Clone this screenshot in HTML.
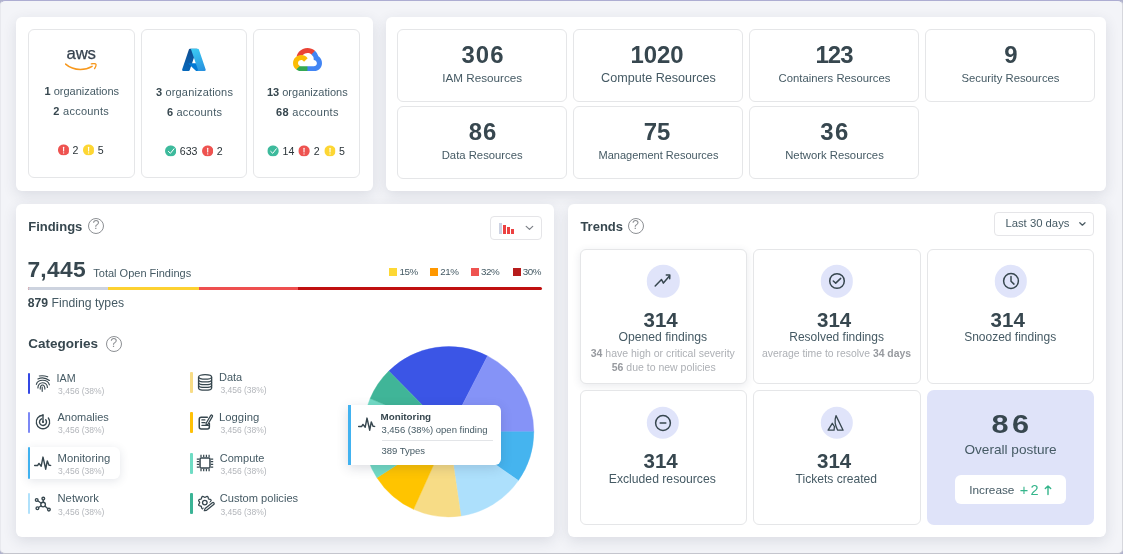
<!DOCTYPE html>
<html>
<head>
<meta charset="utf-8">
<style>
*{box-sizing:border-box;margin:0;padding:0}
html,body{width:1123px;height:554px;overflow:hidden}html{background:#a9abd0}body{will-change:transform}
body{font-family:"Liberation Sans",sans-serif;background:#b0b2cc;color:#37474f;position:relative}
.frame{position:absolute;left:0;top:0;width:1123px;height:554px;border:1px solid #e8e9ee;border-top:1.3px solid #adadd2;border-right-color:#d6d7dd;border-bottom-color:#c4c5cd;border-radius:5px;background:#f3f4f8}
.abs{position:absolute}
.panel{position:absolute;background:#fff;border-radius:6px;box-shadow:0 4px 14px rgba(45,50,70,.12)}
.card{position:absolute;background:#fff;border:1px solid #e5e6e8;border-radius:6px}
.c{position:absolute;white-space:nowrap;transform:translate(-50%,-50%);line-height:1}
.l{position:absolute;white-space:nowrap;transform:translate(0,-50%);line-height:1}
b{font-weight:700}
.num{font-weight:700;font-size:23px;color:#37474f}
.lab{font-size:11.5px;color:#455a64}
.org{font-size:11px;color:#455a64}
.org b{color:#37474f}
.st{position:absolute;display:flex;align-items:center;transform:translate(-50%,-50%);font-size:10.6px;color:#2a3338;white-space:nowrap;line-height:1}
.st svg{margin-right:3.6px}
.st span{margin-right:4.4px;position:relative;top:1.1px}
.st span:last-child{margin-right:0}
.h{font-weight:700;font-size:13px;color:#37474f}
.help{position:absolute;width:16px;height:16px;border:1.3px solid #8d9094;border-radius:50%;transform:translate(-50%,-50%);font-size:12.5px;color:#8d9094;text-align:center;line-height:13.8px}
.cat{font-size:11px;color:#455a64}
.sub{font-size:8.5px;color:#b3b6bb}
.bar{position:absolute;margin-left:.2px;width:2.5px;border-radius:1px}
.circ{position:absolute;width:32.4px;height:32.4px;border-radius:50%;background:#e0e4fa;transform:translate(-50%,-50%)}
.t314{font-weight:700;font-size:20.5px;color:#37474f}
.tl{font-size:12px;color:#455a64}
.ts{font-size:10.5px;color:#adb0b5}
.ts b{color:#979a9f}
.lg{font-size:9.8px;letter-spacing:-.5px;color:#455a64}
.sq{position:absolute;width:8px;height:8px}
</style>
</head>
<body>
<div class="frame"></div>
<div class="panel" style="left:16px;top:17px;width:356.7px;height:173.8px"></div>
<div class="card" style="left:27.9px;top:29.2px;width:107.2px;height:149px;"></div>
<div class="card" style="left:140.6px;top:29.2px;width:106.4px;height:149px;"></div>
<div class="card" style="left:253.2px;top:29.2px;width:107.2px;height:149px;"></div>
<div class="c " style="left:81.2px;top:54.1px;font-size:16.8px;color:#36424f;letter-spacing:-.2px;-webkit-text-stroke:.25px #36424f">aws</div>
<svg class="abs" style="left:65.3px;top:62.6px" width="32" height="9" viewBox="0 0 32 9"><path d="M.6 1.1C4.600 4.600 10 6.400 15.400 6.400c4 0 8.300-1.100 11.700-3.100" fill="none" stroke="#f7981d" stroke-width="1.500" stroke-linecap="round"/><path d="M26.300.800c1.700-.300 4-.300 4.500.300.500.600-.200 2.900-1.200 4.500" fill="none" stroke="#f7981d" stroke-width="1.300" stroke-linecap="round" stroke-linejoin="round"/></svg>
<div class="c org" style="left:81.8px;top:90.6px;"><b>1</b> organizations</div>
<div class="c org" style="left:81.2px;top:111.1px;letter-spacing:.25px"><b>2</b> accounts</div>
<div class="st" style="left:80.6px;top:149.8px"><svg width="11.4" height="11.4" viewBox="0 0 11.4 11.4"><circle cx="5.7" cy="5.7" r="5.7" fill="#ee5350"/><rect x="5.15" y="2.5" width="1.1" height="4.7" rx=".5" fill="#fff"/><circle cx="5.7" cy="8.6" r=".65" fill="#fff"/></svg><span>2</span><svg width="11.4" height="11.4" viewBox="0 0 11.4 11.4"><circle cx="5.7" cy="5.7" r="5.7" fill="#fdd633"/><rect x="5.15" y="2.5" width="1.1" height="4.7" rx=".5" fill="#fff"/><circle cx="5.7" cy="8.6" r=".65" fill="#fff"/></svg><span>5</span></div>
<svg class="abs" style="left:181.1px;top:46.9px" width="25.8" height="25.8" viewBox="0 0 96 96"><defs>
<linearGradient id="az1" x1="58.97" y1="7.41" x2="18.06" y2="93.3" gradientUnits="userSpaceOnUse"><stop offset="0" stop-color="#114a8b"/><stop offset="1" stop-color="#0669bc"/></linearGradient>
<linearGradient id="az3" x1="45.6" y1="6.6" x2="75" y2="89" gradientUnits="userSpaceOnUse"><stop offset="0" stop-color="#3ccbf4"/><stop offset="1" stop-color="#2892df"/></linearGradient></defs>
<path fill="url(#az1)" d="M33.338 6.544h26.038l-27.030 80.087a4.152 4.152 0 0 1-3.933 2.824H8.149a4.145 4.145 0 0 1-3.928-5.470L29.404 9.368a4.152 4.152 0 0 1 3.934-2.825z"/>
<path fill="#0078d4" d="M71.175 60.261h-41.290a1.911 1.911 0 0 0-1.305 3.309l26.532 24.764a4.171 4.171 0 0 0 2.846 1.121h23.380z"/>
<path fill="url(#az3)" d="M66.595 9.364a4.145 4.145 0 0 0-3.928-2.820H33.648a4.146 4.146 0 0 1 3.928 2.820l25.184 74.620a4.146 4.146 0 0 1-3.928 5.472h29.020a4.146 4.146 0 0 0 3.927-5.472z"/></svg>
<div class="c org" style="left:194.5px;top:91.6px;letter-spacing:.17px"><b>3</b> organizations</div>
<div class="c org" style="left:194.5px;top:111.9px;letter-spacing:.2px"><b>6</b> accounts</div>
<div class="st" style="left:193.8px;top:150.7px"><svg width="11.4" height="11.4" viewBox="0 0 11.4 11.4"><circle cx="5.7" cy="5.7" r="5.7" fill="#3dba9c"/><path d="M3.4 6.1l2 1.900 3.600-4.500" fill="none" stroke="#fff" stroke-width="1" stroke-linecap="round" stroke-linejoin="round"/></svg><span>633</span><svg width="11.4" height="11.4" viewBox="0 0 11.4 11.4"><circle cx="5.7" cy="5.7" r="5.7" fill="#ee5350"/><rect x="5.15" y="2.5" width="1.1" height="4.7" rx=".5" fill="#fff"/><circle cx="5.7" cy="8.6" r=".65" fill="#fff"/></svg><span>2</span></div>
<svg class="abs" style="left:292.6px;top:47.6px" width="29" height="23.3" viewBox="0 0 256 206">
<path fill="#EA4335" d="m170.252 56.819l22.253-22.253l1.483-9.370C153.437-11.677 88.976-7.496 52.420 33.920C42.267 45.423 34.734 59.764 30.717 74.573l7.970-1.123l44.505-7.340l3.436-3.513c19.797-21.742 53.270-24.667 76.128-6.168z"/>
<path fill="#4285F4" d="M224.205 73.918a100.249 100.249 0 0 0-30.217-48.722l-31.232 31.232a55.515 55.515 0 0 1 20.379 44.037v5.544c15.350 0 27.797 12.445 27.797 27.796c0 15.352-12.446 27.485-27.797 27.485h-55.671l-5.466 5.934v33.340l5.466 5.231h55.670c39.930.311 72.553-31.494 72.864-71.424a72.303 72.303 0 0 0-31.793-60.453"/>
<path fill="#34A853" d="M71.870 205.796h55.593V161.290H71.870a27.275 27.275 0 0 1-11.399-2.498l-7.887 2.420l-22.409 22.253l-1.952 7.574c12.567 9.489 27.900 14.825 43.647 14.757"/>
<path fill="#FBBC05" d="M71.870 61.425C31.940 61.663-.237 94.228.001 134.159a72.301 72.301 0 0 0 28.222 56.880l32.248-32.246c-13.990-6.322-20.208-22.786-13.887-36.776c6.320-13.990 22.786-20.208 36.775-13.888a27.796 27.796 0 0 1 13.887 13.888l32.248-32.248A72.224 72.224 0 0 0 71.870 61.425"/></svg>
<div class="c org" style="left:307.3px;top:91.6px;"><b>13</b> organizations</div>
<div class="c org" style="left:307.4px;top:111.9px;letter-spacing:.32px"><b>68</b> accounts</div>
<div class="st" style="left:306.2px;top:150.7px"><svg width="11.4" height="11.4" viewBox="0 0 11.4 11.4"><circle cx="5.7" cy="5.7" r="5.7" fill="#3dba9c"/><path d="M3.4 6.1l2 1.900 3.600-4.500" fill="none" stroke="#fff" stroke-width="1" stroke-linecap="round" stroke-linejoin="round"/></svg><span>14</span><svg width="11.4" height="11.4" viewBox="0 0 11.4 11.4"><circle cx="5.7" cy="5.7" r="5.7" fill="#ee5350"/><rect x="5.15" y="2.5" width="1.1" height="4.7" rx=".5" fill="#fff"/><circle cx="5.7" cy="8.6" r=".65" fill="#fff"/></svg><span>2</span><svg width="11.4" height="11.4" viewBox="0 0 11.4 11.4"><circle cx="5.7" cy="5.7" r="5.7" fill="#fdd633"/><rect x="5.15" y="2.5" width="1.1" height="4.7" rx=".5" fill="#fff"/><circle cx="5.7" cy="8.6" r=".65" fill="#fff"/></svg><span>5</span></div>
<div class="panel" style="left:386px;top:17px;width:720px;height:173.8px"></div>
<div class="card" style="left:397.2px;top:29.2px;width:169.6px;height:72.4px;"></div>
<div class="c num" style="left:482.70px;top:55.4px;letter-spacing:1px;transform:translate(-50%,-50%) scaleX(1.04)">306</div>
<div class="c lab" style="left:482.2px;top:77.9px;font-size:11.7px">IAM Resources</div>
<div class="card" style="left:573.3px;top:29.2px;width:169.6px;height:72.4px;"></div>
<div class="c num" style="left:657.30px;top:55.4px;letter-spacing:0px;transform:translate(-50%,-50%) scaleX(1.04)">1020</div>
<div class="c lab" style="left:658.5px;top:77.60000000000001px;font-size:12.6px">Compute Resources</div>
<div class="card" style="left:749.3px;top:29.2px;width:169.6px;height:72.4px;"></div>
<div class="c num" style="left:834.05px;top:55.4px;letter-spacing:-0.9px;transform:translate(-50%,-50%) scaleX(1.04)">123</div>
<div class="c lab" style="left:834.5px;top:78.7px;font-size:11.3px">Containers Resources</div>
<div class="card" style="left:925.3px;top:29.2px;width:169.6px;height:72.4px;"></div>
<div class="c num" style="left:1010.50px;top:55.4px;letter-spacing:0px;transform:translate(-50%,-50%) scaleX(1.04)">9</div>
<div class="c lab" style="left:1010.5px;top:78.7px;font-size:11.3px">Security Resources</div>
<div class="card" style="left:397.2px;top:106.2px;width:169.6px;height:72.4px;"></div>
<div class="c num" style="left:482.60px;top:132.4px;letter-spacing:0.8px;transform:translate(-50%,-50%) scaleX(1.04)">86</div>
<div class="c lab" style="left:482.2px;top:155.9px;font-size:11.3px">Data Resources</div>
<div class="card" style="left:573.3px;top:106.2px;width:169.6px;height:72.4px;"></div>
<div class="c num" style="left:657.30px;top:132.4px;letter-spacing:0px;transform:translate(-50%,-50%) scaleX(1.04)">75</div>
<div class="c lab" style="left:658.5px;top:155.20000000000002px;font-size:11px">Management Resources</div>
<div class="card" style="left:749.3px;top:106.2px;width:169.6px;height:72.4px;"></div>
<div class="c num" style="left:835.25px;top:132.4px;letter-spacing:1.5px;transform:translate(-50%,-50%) scaleX(1.04)">36</div>
<div class="c lab" style="left:834.5px;top:155.9px;font-size:11.3px">Network Resources</div>
<div class="panel" style="left:16px;top:203.8px;width:538px;height:333px"></div>
<div class="l h" style="left:28.2px;top:225.9px;">Findings</div>
<div class="help" style="left:96px;top:226px">?</div>
<div class="card" style="left:490px;top:216px;width:52px;height:24px;border-radius:4px;border-color:#e5e5e8"></div>
<div class="abs" style="left:499.1px;top:223px;width:2.8px;height:10.8px;background:#ccd2e2;"></div>
<div class="abs" style="left:503.1px;top:224.5px;width:2.8px;height:9.3px;background:#ec4141;"></div>
<div class="abs" style="left:507.3px;top:226.9px;width:2.7px;height:6.9px;background:#ec4141;"></div>
<div class="abs" style="left:511.3px;top:229.1px;width:2.7px;height:4.7px;background:#ec4141;"></div>
<svg class="abs" style="left:524px;top:223px" width="11" height="10" viewBox="0 0 11 10"><path d="M2.200 3.400l3.300 3 3.200-3" fill="none" stroke="#7c8087" stroke-width="1.250" stroke-linecap="round" stroke-linejoin="round"/></svg>
<div class="l " style="left:27.4px;top:269.4px;font-size:22.8px;font-weight:700;letter-spacing:.3px;color:#37474f">7,445</div>
<div class="l " style="left:93.3px;top:273.1px;font-size:11px;color:#455a64">Total Open Findings</div>
<div class="sq" style="left:389.1px;top:267.6px;background:#fdd835"></div>
<div class="l lg" style="left:399.5px;top:271.7px;">15%</div>
<div class="sq" style="left:430.4px;top:267.6px;background:#ff9800"></div>
<div class="l lg" style="left:440.3px;top:271.7px;">21%</div>
<div class="sq" style="left:471.3px;top:267.6px;background:#ef5350"></div>
<div class="l lg" style="left:481.0px;top:271.7px;">32%</div>
<div class="sq" style="left:513.3px;top:267.6px;background:#b71c1c"></div>
<div class="l lg" style="left:522.8000000000001px;top:271.7px;">30%</div>
<div class="abs" style="left:28px;top:287px;width:514.3px;height:3px;border-radius:1.5px;overflow:hidden;background:#c01010">
<div class="abs" style="left:0;top:0;width:80.4px;height:3px;background:#cdd3df"></div>
<div class="abs" style="left:80.4px;top:0;width:90.8px;height:3px;background:#fdd131"></div>
<div class="abs" style="left:171.2px;top:0;width:99px;height:3px;background:#ee4f4f"></div></div>
<div class="l " style="left:27.8px;top:303.2px;font-size:12.2px;color:#455a64"><b style="color:#37474f">879</b> Finding types</div>
<div class="l h" style="left:28.2px;top:343.6px;font-size:13.5px">Categories</div>
<div class="help" style="left:113.8px;top:343.8px">?</div>
<svg class="abs" style="left:0;top:0" width="1123" height="554" viewBox="0 0 1123 554"><path d="M448.6 431.7L388.78 371.04A85.2 85.2 0 0 1 487.54 355.92Z" fill="#3b55e6" stroke="#3b55e6" stroke-width=".4"/><path d="M448.6 431.7L487.54 355.92A85.2 85.2 0 0 1 533.80 431.70Z" fill="#8593f7" stroke="#8593f7" stroke-width=".4"/><path d="M448.6 431.7L533.80 431.70A85.2 85.2 0 0 1 518.39 480.57Z" fill="#45b4ef" stroke="#45b4ef" stroke-width=".4"/><path d="M448.6 431.7L518.39 480.57A85.2 85.2 0 0 1 460.90 516.01Z" fill="#ade0fc" stroke="#ade0fc" stroke-width=".4"/><path d="M448.6 431.7L460.90 516.01A85.2 85.2 0 0 1 413.54 509.35Z" fill="#f7dc86" stroke="#f7dc86" stroke-width=".4"/><path d="M448.6 431.7L413.54 509.35A85.2 85.2 0 0 1 376.90 477.73Z" fill="#ffc400" stroke="#ffc400" stroke-width=".4"/><path d="M448.6 431.7L376.90 477.73A85.2 85.2 0 0 1 370.12 398.55Z" fill="#72dcc6" stroke="#72dcc6" stroke-width=".4"/><path d="M448.6 431.7L370.12 398.55A85.2 85.2 0 0 1 388.78 371.04Z" fill="#40b598" stroke="#40b598" stroke-width=".4"/></svg>
<div class="abs" style="left:28px;top:446.8px;width:92.2px;height:32.4px;background:#fff;border-radius:0 6px 6px 0;box-shadow:0 2px 10px rgba(50,60,90,.13)"></div>
<div class="bar" style="left:27.8px;top:373px;height:20.8px;background:#3347e4"></div>
<svg class="abs" style="left:34.25px;top:374.35px" width="18" height="18" viewBox="0 0 18 18"><g fill="none" stroke="#37474f" stroke-width="1.15" stroke-linecap="round"><path d="M5.300 2Q9.500 1.200 13.700 2.800"/><path d="M3.900 5Q9.650 2.100 15.400 6.500"/><path d="M2.400 10.300C3.600 5 13.600 4.600 15.400 10.800"/><path d="M3.900 14C3.600 7 13.400 7.200 13.400 13.500"/><path d="M6.200 15.100C6.200 9.800 10.900 9.600 10.900 15.100"/><path d="M8.200 13V17.300"/></g></svg>
<div class="l cat" style="left:56.6px;top:378.2px;font-size:10.7px">IAM</div>
<div class="l sub" style="left:58.1px;top:391.1px;">3,456 (38%)</div>
<div class="bar" style="left:27.8px;top:412.1px;height:20.5px;background:#7c88f5"></div>
<svg class="abs" style="left:34.20px;top:413.40px" width="18" height="18" viewBox="0 0 18 18"><g fill="none" stroke="#37474f" stroke-width="1.400" stroke-linecap="round"><path d="M14.35 4.97A6.7 6.7 0 1 1 8.77 2.30"/><path d="M11.72 6.80A3.5 3.5 0 1 1 7.52 5.83"/><path d="M9 9V1.800"/><circle cx="9" cy="9" r="1.100" fill="#37474f" stroke="none"/></g></svg>
<div class="l cat" style="left:57.5px;top:417.4px;">Anomalies</div>
<div class="l sub" style="left:58.1px;top:430.1px;">3,456 (38%)</div>
<div class="bar" style="left:27.8px;top:446.8px;height:32.4px;background:#3fb1ef"></div>
<svg class="abs" style="left:34.40px;top:454.00px" width="18" height="18" viewBox="0 0 18 18"><path d="M.65 11.4H3.7L4.95 9.4 7.2 12.2 9 3.1 11.7 15.2 13.3 6.9 15.05 11.2 16.6 11.4" fill="none" stroke="#37474f" stroke-width="1.45" stroke-linecap="round" stroke-linejoin="round"/></svg>
<div class="l cat" style="left:57.5px;top:459.1px;font-size:11.3px">Monitoring</div>
<div class="l sub" style="left:58.1px;top:471.1px;">3,456 (38%)</div>
<div class="bar" style="left:27.8px;top:493.2px;height:21.2px;background:#b0e1fb"></div>
<svg class="abs" style="left:34.40px;top:495.40px" width="18" height="18" viewBox="0 0 18 18"><g fill="none" stroke="#37474f" stroke-width="1.35"><circle cx="9.1" cy="9.5" r="2.3"/><circle cx="2.7" cy="5" r="1.35"/><circle cx="9.3" cy="3.6" r="1.35"/><circle cx="3.4" cy="13.2" r="1.35"/><circle cx="14.9" cy="14.6" r="1.35"/><path d="M7.22 8.18L3.80 5.78M9.18 7.20L9.25 4.95M7.17 10.75L4.53 12.46M10.83 11.02L13.89 13.71"/></g></svg>
<div class="l cat" style="left:57.5px;top:498.5px;font-size:11.25px">Network</div>
<div class="l sub" style="left:58.1px;top:511.5px;">3,456 (38%)</div>
<div class="bar" style="left:190.1px;top:371.5px;height:21.0px;background:#f8dc86"></div>
<svg class="abs" style="left:196.30px;top:373.00px" width="18" height="18" viewBox="0 0 18 18"><g fill="none" stroke="#37474f" stroke-width="1.3"><ellipse cx="9.1" cy="3.9" rx="6.55" ry="2.3"/><path d="M2.55 3.9V14.9A6.55 2.3 0 0 0 15.649999999999999 14.9V3.9"/><path d="M2.55 6.65A6.55 2.3 0 0 0 15.649999999999999 6.65"/><path d="M2.55 9.4A6.55 2.3 0 0 0 15.649999999999999 9.4"/><path d="M2.55 12.15A6.55 2.3 0 0 0 15.649999999999999 12.15"/></g></svg>
<div class="l cat" style="left:219.0px;top:376.6px;">Data</div>
<div class="l sub" style="left:220.4px;top:389.9px;">3,456 (38%)</div>
<div class="bar" style="left:190.1px;top:412px;height:20.6px;background:#ffc107"></div>
<svg class="abs" style="left:196.60px;top:413.20px" width="18" height="18" viewBox="0 0 18 18"><g fill="none" stroke="#37474f" stroke-width="1.5" stroke-linecap="round" stroke-linejoin="round"><path d="M10.3 4.35H4.2C3.1 4.35 2.25 5.2 2.25 6.3V14.1C2.25 15.2 3.1 16.05 4.2 16.05H10.4C11.5 16.05 12.35 15.2 12.35 14.1V10.6"/><path stroke-width="1.3" d="M4.9 6.9h3M4.9 9.6h3.2M4.9 12.3h6.6"/><path stroke-width="1.25" fill="#fff" d="M9.2 12.4L9.1 10.2 13.8 2.4A1 1 0 0 1 15.5 3.4L10.9 11.3Z"/></g></svg>
<div class="l cat" style="left:219.0px;top:418.0px;font-size:11.3px">Logging</div>
<div class="l sub" style="left:220.4px;top:430.1px;">3,456 (38%)</div>
<div class="bar" style="left:190.1px;top:452.6px;height:21.2px;background:#6fdcc4"></div>
<svg class="abs" style="left:196.30px;top:454.30px" width="18" height="18" viewBox="0 0 18 18"><g fill="none" stroke="#37474f" stroke-linecap="butt"><rect x="4.05" y="4.05" width="9.9" height="9.9" rx="1" stroke-width="1.5"/><path stroke-width="1.25" d="M5.0 .8V3.3M5.0 14.7V17.2M.8 5.0H3.3M14.7 5.0H17.2M7.7 .8V3.3M7.7 14.7V17.2M.8 7.7H3.3M14.7 7.7H17.2M10.4 .8V3.3M10.4 14.7V17.2M.8 10.4H3.3M14.7 10.4H17.2M13.1 .8V3.3M13.1 14.7V17.2M.8 13.1H3.3M14.7 13.1H17.2"/></g></svg>
<div class="l cat" style="left:219.8px;top:458.2px;">Compute</div>
<div class="l sub" style="left:220.4px;top:470.9px;">3,456 (38%)</div>
<div class="bar" style="left:190.1px;top:493.1px;height:21.1px;background:#3bb496"></div>
<svg class="abs" style="left:196.60px;top:494.30px" width="18" height="18" viewBox="0 0 18 18"><g fill="none" stroke="#37474f" stroke-width="1.3" stroke-linecap="round" stroke-linejoin="round"><path d="M13.15 8.60L13.23 8.95L13.45 9.33L13.74 9.76L13.99 10.23L14.11 10.71L14.04 11.14L13.78 11.50L13.36 11.75L12.85 11.91L12.34 12.01L11.92 12.12L11.61 12.31L11.42 12.62L11.31 13.04L11.21 13.55L11.05 14.06L10.80 14.48L10.44 14.74L10.01 14.81L9.53 14.69L9.06 14.44L8.63 14.15L8.25 13.93L7.90 13.85L7.55 13.93L7.17 14.15L6.74 14.44L6.27 14.69L5.79 14.81L5.36 14.74L5.00 14.48L4.75 14.06L4.59 13.55L4.49 13.04L4.38 12.62L4.19 12.31L3.88 12.12L3.46 12.01L2.95 11.91L2.44 11.75L2.02 11.50L1.76 11.14L1.69 10.71L1.81 10.23L2.06 9.76L2.35 9.33L2.57 8.95L2.65 8.60L2.57 8.25L2.35 7.87L2.06 7.44L1.81 6.97L1.69 6.49L1.76 6.06L2.02 5.70L2.44 5.45L2.95 5.29L3.46 5.19L3.88 5.08L4.19 4.89L4.38 4.58L4.49 4.16L4.59 3.65L4.75 3.14L5.00 2.72L5.36 2.46L5.79 2.39L6.27 2.51L6.74 2.76L7.17 3.05L7.55 3.27L7.90 3.35L8.25 3.27L8.63 3.05L9.06 2.76L9.53 2.51L10.01 2.39L10.44 2.46L10.80 2.72L11.05 3.14L11.21 3.65L11.31 4.16L11.42 4.58L11.61 4.89L11.92 5.08L12.34 5.19L12.85 5.29L13.36 5.45L13.78 5.70L14.04 6.06L14.11 6.49L13.99 6.97L13.74 7.44L13.45 7.87L13.23 8.25Z"/><circle cx="7.8" cy="8.6" r="2.3"/><path d="M7.3 16.7L8.15 14.58 15.3 8.75A1.1 1.1 0 0 1 16.7 10.45L9.55 16.28Z" fill="#fff" stroke="#fff" stroke-width="3.2"/><path d="M7.3 16.7L8.15 14.58 15.3 8.75A1.1 1.1 0 0 1 16.7 10.45L9.55 16.28Z" fill="#fff" stroke-width="1.25"/></g></svg>
<div class="l cat" style="left:219.8px;top:499.0px;font-size:11.1px">Custom policies</div>
<div class="l sub" style="left:220.4px;top:511.5px;">3,456 (38%)</div>
<div class="abs" style="left:348px;top:404.8px;width:152.9px;height:60.1px;background:#fff;border-radius:0 6px 6px 0;box-shadow:0 3px 12px rgba(40,50,80,.17)"></div>
<div class="abs" style="left:348px;top:404.8px;width:2.9px;height:60.1px;background:#41b2f0;"></div>
<svg class="abs" style="left:357.80px;top:415.00px" width="18" height="18" viewBox="0 0 18 18"><path d="M.65 11.4H3.7L4.95 9.4 7.2 12.2 9 3.1 11.7 15.2 13.3 6.9 15.05 11.2 16.6 11.4" fill="none" stroke="#37474f" stroke-width="1.45" stroke-linecap="round" stroke-linejoin="round"/></svg>
<div class="l " style="left:380.5px;top:416.7px;font-size:9.8px;font-weight:700;color:#37474f">Monitoring</div>
<div class="l " style="left:381.4px;top:429.5px;font-size:9.5px;color:#455a64">3,456 (38%) open finding</div>
<div class="abs" style="left:382.4px;top:440px;width:110.5px;height:1px;background:#e3e5e8;"></div>
<div class="l " style="left:381.4px;top:451.2px;font-size:9.5px;color:#455a64">389 Types</div>
<div class="panel" style="left:568px;top:203.8px;width:538.4px;height:333px"></div>
<div class="l h" style="left:580.4px;top:225.9px;">Trends</div>
<div class="help" style="left:635.5px;top:226px">?</div>
<div class="card" style="left:994px;top:212px;width:100px;height:24px;border-radius:4px;border-color:#e5e5e8"></div>
<div class="l " style="left:1005.4px;top:224.3px;font-size:11.3px;color:#455a64">Last 30 days</div>
<svg class="abs" style="left:1076.5px;top:219px" width="11" height="10" viewBox="0 0 11 10"><path d="M2.800 3.700l2.600 2.500 2.600-2.500" fill="none" stroke="#4a5a62" stroke-width="1.25" stroke-linecap="round" stroke-linejoin="round"/></svg>
<div class="card" style="left:580px;top:249px;width:167px;height:135px;border-radius:6px;box-shadow:0 2px 8px rgba(40,50,80,.10)"></div>
<div class="card" style="left:753px;top:249px;width:168px;height:135px;border-radius:6px"></div>
<div class="card" style="left:927px;top:249px;width:167px;height:135px;border-radius:6px"></div>
<div class="card" style="left:580px;top:390px;width:167px;height:135px;border-radius:6px"></div>
<div class="card" style="left:753px;top:390px;width:168px;height:135px;border-radius:6px"></div>
<div class="abs" style="left:927px;top:390px;width:167px;height:135px;background:#dfe3f9;border-radius:7px"></div>
<div class="circ" style="left:663.3px;top:281.2px"></div>
<div class="circ" style="left:837px;top:281.2px"></div>
<div class="circ" style="left:1010.7px;top:281.2px"></div>
<svg class="abs" style="left:651.3px;top:269.2px" width="24" height="24" viewBox="-12 -12 24 24"><g fill="none" stroke="#37474f" stroke-width="1.500" stroke-linecap="round" stroke-linejoin="round"><path d="M-7.800 5l6.300-6.500 1.900 3.600 6-7"/><path d="M3.300-5.900l3.500-.1-.1 3.800"/></g></svg>
<svg class="abs" style="left:825.0px;top:269.2px" width="24" height="24" viewBox="-12 -12 24 24"><g fill="none" stroke="#37474f" stroke-width="1.500" stroke-linecap="round" stroke-linejoin="round"><circle r="7.300"/><path d="M-3.700 0l2.400 2.100 5-4.700"/></g></svg>
<svg class="abs" style="left:998.7px;top:269.1px" width="24" height="24" viewBox="-12 -12 24 24"><g fill="none" stroke="#37474f" stroke-width="1.500" stroke-linecap="round" stroke-linejoin="round"><circle r="7.400"/><path d="M0-4.400V.2l3 2.900"/></g></svg>
<div class="circ" style="left:663.0px;top:422.5px"></div>
<div class="circ" style="left:836.7px;top:422.5px"></div>
<svg class="abs" style="left:651.2px;top:410.5px" width="24" height="24" viewBox="-12 -12 24 24"><g fill="none" stroke="#37474f" stroke-width="1.500" stroke-linecap="round" stroke-linejoin="round"><circle r="7.400"/><path d="M-2.800 0h5.600"/></g></svg>
<svg class="abs" style="left:824.4px;top:410.5px" width="24" height="24" viewBox="-12 -12 24 24"><g fill="none" stroke="#37474f" stroke-width="1.500" stroke-linecap="round" stroke-linejoin="round"><path stroke-width="1.300" d="M0-7.400L7.100 7.200H1.700Q-2.500-.5 0-7.400Z"/><path stroke-width="1.300" d="M-3.700.300L-7.900 7.200H-1.900L-1.600 3.500Z"/></g></svg>
<div class="c t314" style="left:660.6px;top:320.2px;">314</div>
<div class="c tl" style="left:662.8px;top:337px;font-size:12.2px">Opened findings</div>
<div class="c ts" style="left:662.8px;top:353.1px;"><b>34</b> have high or critical severity</div>
<div class="c ts" style="left:663.7px;top:366.5px;"><b>56</b> due to new policies</div>
<div class="c t314" style="left:834.1px;top:320.2px;">314</div>
<div class="c tl" style="left:836.6px;top:337px;">Resolved findings</div>
<div class="c ts" style="left:836.5px;top:353.9px;font-size:10.4px">average time to resolve <b>34 days</b></div>
<div class="c t314" style="left:1007.7px;top:320.2px;">314</div>
<div class="c tl" style="left:1010.2px;top:337px;">Snoozed findings</div>
<div class="c t314" style="left:660.6px;top:460.9px;">314</div>
<div class="c tl" style="left:662.3px;top:479.1px;font-size:12.2px">Excluded resources</div>
<div class="c t314" style="left:834.1px;top:460.9px;">314</div>
<div class="c tl" style="left:836.3px;top:479.1px;font-size:12.1px">Tickets created</div>
<div class="c" style="left:1012.2px;top:424.4px;font-size:26px;font-weight:700;letter-spacing:3px;color:#37474f;transform:translate(-50%,-50%) scaleX(1.18)">86</div>
<div class="c " style="left:1010.6px;top:450.2px;font-size:13.6px;color:#455a64">Overall posture</div>
<div class="abs" style="left:955px;top:475px;width:111px;height:29px;background:#fff;border-radius:6px"></div>
<div class="l " style="left:969.2px;top:491.1px;font-size:11.8px;color:#455a64">Increase</div>
<div class="l " style="left:1019.8px;top:490px;font-size:14.5px;color:#35b58b;letter-spacing:2.2px">+2</div>
<svg class="abs" style="left:1042.5px;top:483.5px" width="10" height="12" viewBox="0 0 10 12"><path d="M5 10.500V2M2.300 4.600L5 1.900l2.700 2.700" fill="none" stroke="#35b58b" stroke-width="1.400" stroke-linecap="round" stroke-linejoin="round"/></svg>
</body>
</html>
